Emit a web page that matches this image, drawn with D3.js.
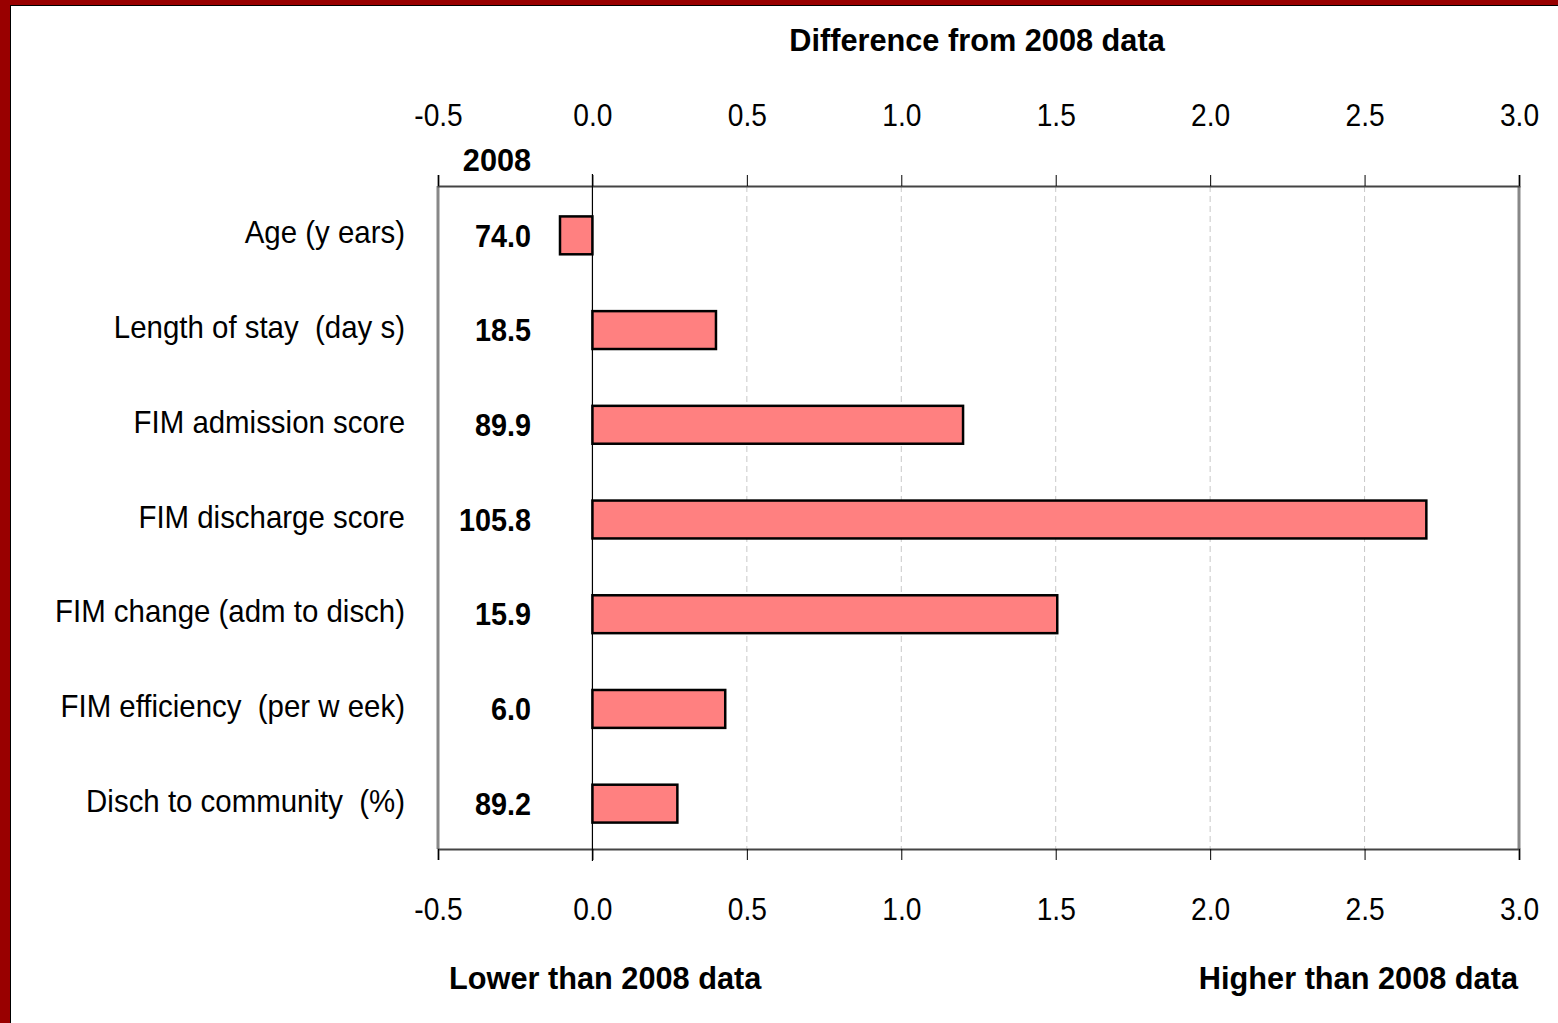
<!DOCTYPE html>
<html><head><meta charset="utf-8">
<script src="https://cdn.jsdelivr.net/npm/d3@7"></script>
<style>
body{margin:0;background:#fff;}
svg text{font-family:"Liberation Sans",Arial,sans-serif;}
</style></head>
<body>
<svg id="c" width="1558" height="1023"></svg>
<script>
const categories = ["Age (y ears)","Length of stay  (day s)","FIM admission score","FIM discharge score","FIM change (adm to disch)","FIM efficiency  (per w eek)","Disch to community  (%)"];
const baseline2008 = ["74.0","18.5","89.9","105.8","15.9","6.0","89.2"];
const differences = [-0.105, 0.40, 1.20, 2.70, 1.505, 0.43, 0.275];
const tickValues = [-0.5,0,0.5,1.0,1.5,2.0,2.5,3.0];

const svg = d3.select("#c");
// border
svg.append("rect").attr("x",0).attr("y",0).attr("width",1558).attr("height",1023).attr("fill","#990000");
svg.append("rect").attr("x",10).attr("y",5).attr("width",1548).attr("height",1018).attr("fill","#000");
svg.append("rect").attr("x",11).attr("y",6).attr("width",1547).attr("height",1017).attr("fill","#fff");

const L=438,R=1519,T=186,B=849;
const x = d3.scaleLinear().domain([-0.5,3.0]).range([L,R]);
const y = d3.scaleBand().domain(categories).range([T+2,B+2]).paddingInner(0.6).paddingOuter(0.3);

// gridlines
svg.append("g").selectAll("line").data(tickValues.filter(v=>v>0&&v<3))
 .join("line").attr("x1",d=>x(d)).attr("x2",d=>x(d)).attr("y1",T).attr("y2",B)
 .attr("stroke","#c8c8c8").attr("stroke-width",1).attr("stroke-dasharray","6,4");

// frame
svg.append("line").attr("x1",L).attr("x2",L).attr("y1",T).attr("y2",B).attr("stroke","#888").attr("stroke-width",3);
svg.append("line").attr("x1",R).attr("x2",R).attr("y1",T).attr("y2",B).attr("stroke","#888").attr("stroke-width",3);

const fmt = v => d3.format(".1f")(v).replace("\u2212","-");
const topAxis = d3.axisTop(x).tickValues(tickValues).tickFormat(fmt).tickSize(11).tickPadding(49);
const botAxis = d3.axisBottom(x).tickValues(tickValues).tickFormat(fmt).tickSize(11).tickPadding(37);
function style(g){
  g.select(".domain").attr("stroke","#444").attr("stroke-width",2);
  g.selectAll(".tick line").attr("stroke","#000").attr("stroke-width",1);
  g.selectAll(".tick text").attr("font-size",32).attr("fill","#000").attr("transform","scale(0.88,1)");
}
svg.append("g").attr("transform",`translate(0,${T})`).call(topAxis).call(style);
svg.append("g").attr("transform",`translate(0,${B})`).call(botAxis).call(style);

// bars
svg.append("g").selectAll("rect").data(differences).join("rect")
 .attr("x",(d)=>x(Math.min(0,d))).attr("width",d=>Math.abs(x(d)-x(0)))
 .attr("y",(d,i)=>y(categories[i])).attr("height",y.bandwidth())
 .attr("fill","#ff8080").attr("stroke","#000").attr("stroke-width",2.5);

// zero line
svg.append("line").attr("x1",x(0)).attr("x2",x(0)).attr("y1",T-12).attr("y2",B+12).attr("stroke","#000").attr("stroke-width",1.2);

// category labels
svg.append("g").selectAll("text").data(categories).join("text")
 .attr("transform",d=>`translate(405,${y(d)+y.bandwidth()/2}) scale(0.92,1)`).attr("dy","0.25em")
 .attr("text-anchor","end").attr("font-size",32).attr("xml:space","preserve").style("white-space","pre").text(d=>d);

// 2008 values
svg.append("g").selectAll("text").data(baseline2008).join("text")
 .attr("transform",(d,i)=>`translate(531,${y(categories[i])+y.bandwidth()/2}) scale(0.9,1)`).attr("dy","0.35em")
 .attr("text-anchor","end").attr("font-size",32).attr("font-weight","bold").text(d=>d);

function bold(txt,x0,y0,anchor){
  svg.append("text").attr("transform",`translate(${x0},${y0}) scale(0.96,1)`).attr("text-anchor",anchor)
   .attr("font-size",32).attr("font-weight","bold").text(txt);
}
bold("2008",497,171,"middle");
bold("Difference from 2008 data",977,51,"middle");
bold("Lower than 2008 data",449,989,"start");
bold("Higher than 2008 data",1518,989,"end");
</script>
</body></html>
